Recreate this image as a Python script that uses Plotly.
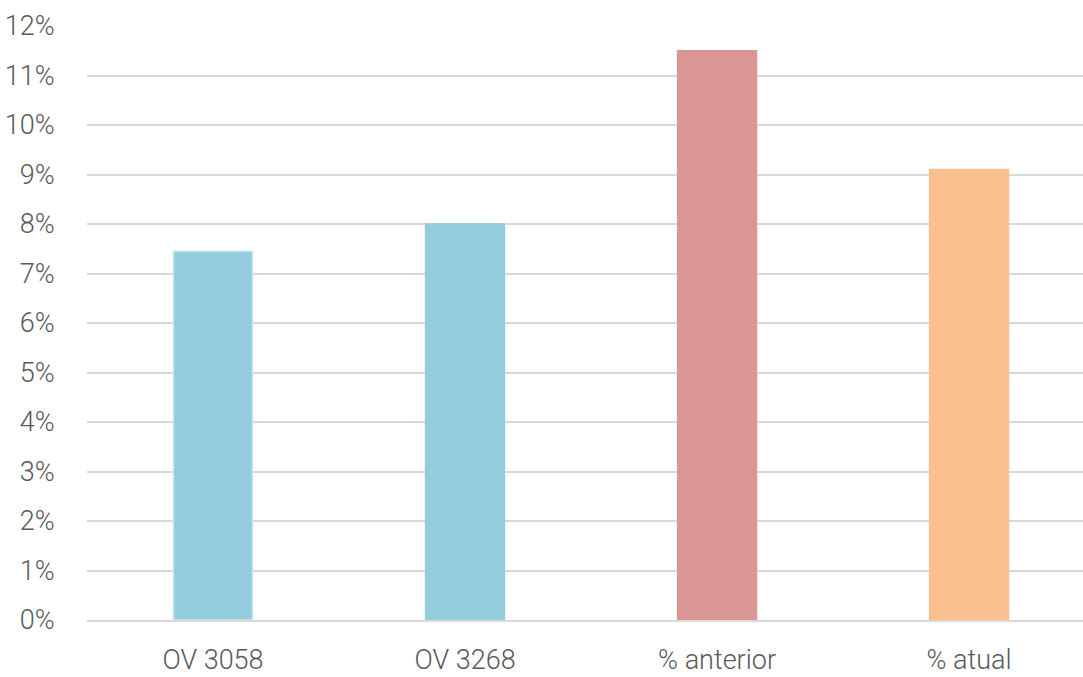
import plotly.graph_objects as go

categories = ["OV 3058", "OV 3268", "% anterior", "% atual"]
values = [0.0745, 0.080, 0.115, 0.091]
bar_colors = ["#93CDDD", "#93CDDD", "#D99694", "#FAC090"]
line_colors = ["#C4E4EE", "#93CDDD", "#D99694", "#FAC090"]
tick_vals = [i / 100 for i in range(0, 13)]
tick_text = [f"{i}%" for i in range(0, 13)]

font_family = "Roboto, sans-serif"
label_font = dict(family=font_family, size=27, color="#595959", weight=300)

fig = go.Figure(
    go.Bar(
        x=list(range(len(categories))),
        y=values,
        width=0.313,
        marker=dict(color=bar_colors, line=dict(color=line_colors, width=1.5)),
    )
)

fig.update_layout(
    width=1083,
    height=677,
    margin=dict(l=87, r=0, t=26, b=57, autoexpand=False),
    plot_bgcolor="white",
    paper_bgcolor="white",
    showlegend=False,
    font=label_font,
)

fig.update_xaxes(
    tickmode="array",
    tickvals=list(range(len(categories))),
    ticktext=categories,
    range=[-0.5, 3.452],
    showgrid=False,
    showline=True,
    linecolor="#D9D9D9",
    linewidth=2,
    ticks="outside",
    ticklen=15,
    tickcolor="rgba(0,0,0,0)",
    tickfont=label_font,
    automargin=False,
)

fig.update_yaxes(
    range=[0, 0.12],
    tickmode="array",
    tickvals=tick_vals,
    ticktext=tick_text,
    showgrid=True,
    gridcolor="#D9D9D9",
    gridwidth=2,
    zeroline=False,
    showline=False,
    ticks="outside",
    ticklen=26,
    tickcolor="rgba(0,0,0,0)",
    tickfont=label_font,
    automargin=False,
)

fig.write_html("out.html")
